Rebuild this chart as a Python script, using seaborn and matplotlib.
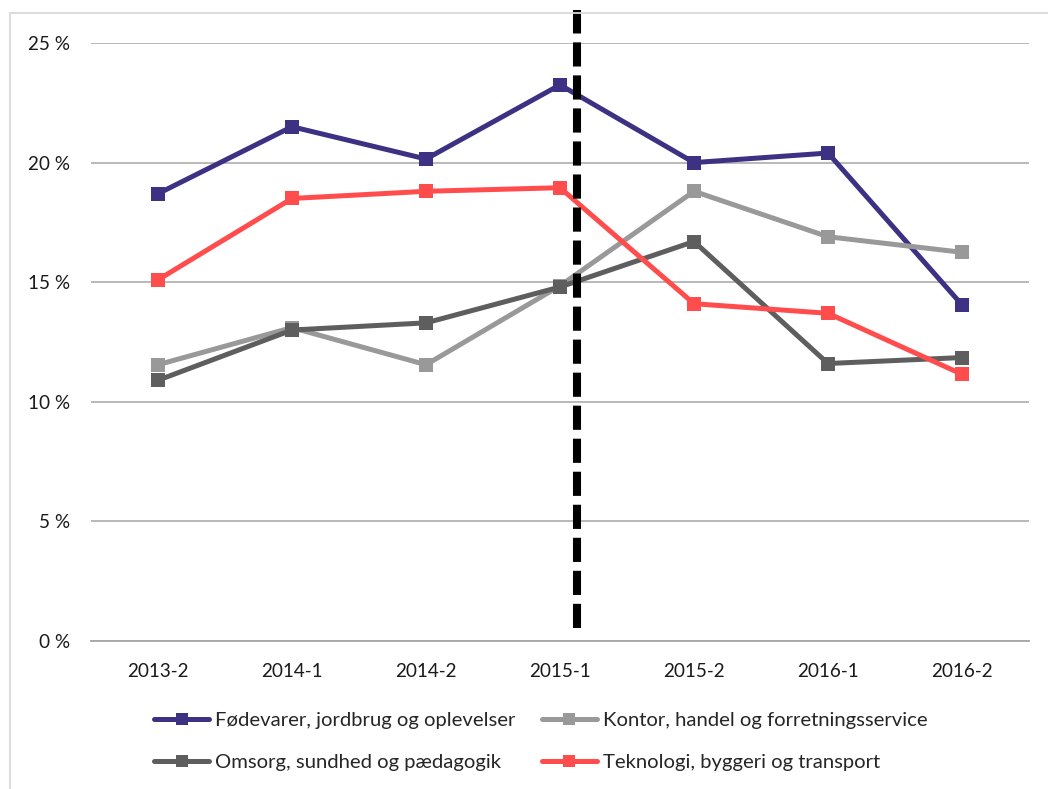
import pandas as pd
import matplotlib.pyplot as plt
import seaborn as sns
from matplotlib.patches import Rectangle
from matplotlib.lines import Line2D

# data
perioder = ['2013-2', '2014-1', '2014-2', '2015-1', '2015-2', '2016-1', '2016-2']
foedevarer = [18.7, 21.5, 20.15, 23.25, 20.0, 20.4, 14.05]
kontor = [11.55, 13.1, 11.55, 14.85, 18.8, 16.9, 16.25]
omsorg = [10.9, 13.0, 13.3, 14.8, 16.7, 11.6, 11.85]
teknologi = [15.1, 18.5, 18.8, 18.95, 14.1, 13.7, 11.15]

navne = ['Fødevarer, jordbrug og oplevelser', 'Kontor, handel og forretningsservice',
         'Omsorg, sundhed og pædagogik', 'Teknologi, byggeri og transport']
farver = ['#3D3183', '#999999', '#5E5E5E', '#FF4D4D']

rows = []
for navn, vals in zip(navne, [foedevarer, kontor, omsorg, teknologi]):
    for p, v in zip(perioder, vals):
        rows.append({'periode': p, 'andel': v, 'gruppe': navn})
df = pd.DataFrame(rows)

sns.set_style('white')
plt.rcParams['font.family'] = ['Lato', 'DejaVu Sans']

fig = plt.figure(figsize=(10.48, 7.89), dpi=100)
ax = fig.add_axes([0.0868, 0.1876, 0.8951, 0.7579])

sns.lineplot(data=df, x='periode', y='andel', hue='gruppe', palette=farver,
             marker='s', markersize=10.5, markeredgewidth=0, linewidth=3.6,
             sort=False, legend=False, ax=ax)

ax.set_xlim(-0.5, 6.5)
ax.set_ylim(0, 25)
ax.set_yticks([0, 5, 10, 15, 20, 25])
ax.set_yticklabels([f'{t} %' for t in [0, 5, 10, 15, 20, 25]])
ax.set_xlabel('')
ax.set_ylabel('')
ax.yaxis.grid(True, color='#A6A6A6', linewidth=1.1)
ax.set_axisbelow(True)
for s in ['top', 'right', 'left']:
    ax.spines[s].set_visible(False)
ax.spines['bottom'].set_color('#A6A6A6')
ax.spines['bottom'].set_linewidth(1.3)
ax.tick_params(axis='both', length=0, labelsize=13.6, colors='#1a1a1a')
ax.tick_params(axis='y', pad=15)
ax.tick_params(axis='x', pad=16)

# dashed separator between 2015-1 and 2015-2
ax.plot([3.13, 3.13], [0.55, 26.4], color='black', linewidth=5.8,
        linestyle=(0, (3.0, 1.1)), solid_capstyle='butt', dash_capstyle='butt',
        clip_on=False, zorder=5)

# legend in two rows
handles = [Line2D([], [], color=c, linewidth=3.6, marker='s', markersize=8,
                  markeredgewidth=0) for c in farver]
order = [0, 2, 1, 3]
fig.legend([handles[i] for i in order], [navne[i] for i in order],
           ncol=2, loc='lower left', bbox_to_anchor=(0.13, 0.0),
           frameon=False, fontsize=14.6, handlelength=2.7, handletextpad=0.3,
           columnspacing=1.3, labelspacing=1.2)

# light chart frame
fig.patches.append(Rectangle((10 / 1048, -0.05), 1.1, (789 - 13) / 789 + 0.05,
                             transform=fig.transFigure, fill=False,
                             edgecolor='#D9D9D9', linewidth=1.3))

plt.savefig('out.png', dpi=100)
